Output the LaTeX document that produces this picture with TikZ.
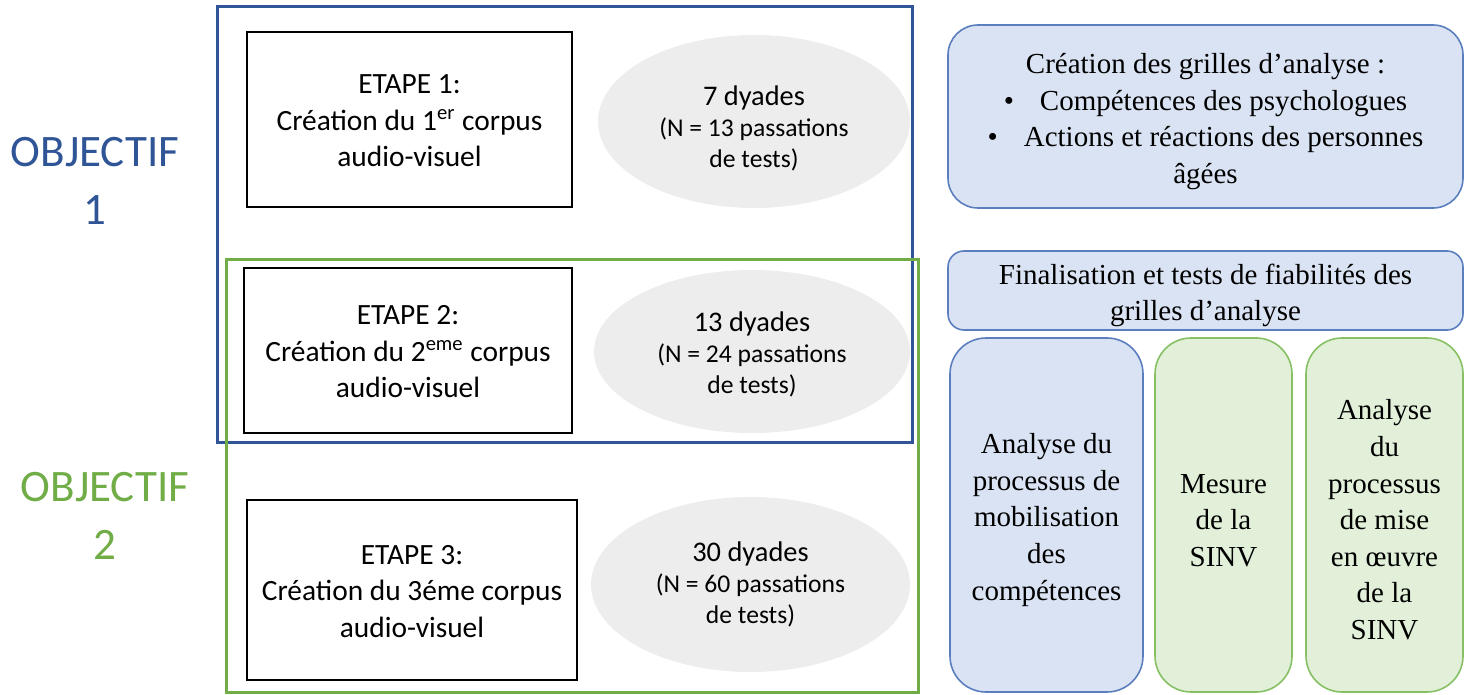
\documentclass[tikz,border=0pt]{standalone}
\usepackage{fontspec}
\setmainfont{Liberation Serif}
\newfontfamily\calibri{Carlito}
\usetikzlibrary{shapes.geometric}

\definecolor{objblue}{HTML}{2F5597}
\definecolor{objgreen}{HTML}{70AD47}
\definecolor{dyadegray}{HTML}{EDEDED}
\definecolor{grilleblue}{HTML}{DAE3F3}
\definecolor{grilleblueline}{HTML}{5B7EBE}
\definecolor{grillegreen}{HTML}{E2F0D9}
\definecolor{grillegreenline}{HTML}{86C062}

% extra height on a first line, pushes the text block down
\newcommand{\hausse}[1]{\rule{0pt}{#1}}

\begin{document}
\begin{tikzpicture}[x=0.5pt, y=-0.5pt,
		etape/.style={draw=black, line width=1pt, align=center, inner sep=0pt,
			font=\calibri\fontsize{14.7}{18.2}\selectfont},
		dyade/.style={ellipse, fill=dyadegray, align=center, inner sep=0pt,
			font=\calibri\fontsize{12.8}{15.5}\selectfont},
		grille/.style={rounded corners=#1, line width=0.8pt, align=center, inner sep=0pt,
			font=\fontsize{14.5}{18.3}\selectfont},
		grille/.default=15pt]
		\useasboundingbox (0,0) rectangle (1472,695);
		
		% Objectif frames
		\draw[objblue, line width=1.5pt] (217,7) rectangle (912,442);
		\draw[objgreen, line width=1.5pt] (226,260) rectangle (918,692);
		\node[objblue, align=center, font=\calibri\fontsize{22.5}{29}\selectfont] (obj1) at (95,181) {OBJECTIF\\1};
		\node[objgreen, align=center, font=\calibri\fontsize{22.5}{29}\selectfont] (obj2) at (105,516) {OBJECTIF\\2};
		
		% Etapes
		\node[etape, minimum width=162.5pt, minimum height=87.5pt] (etape1) at (409.5,119.5)
			{\hausse{11pt}ETAPE 1:\\Création du 1\textsuperscript{er} corpus\\audio-visuel};
		\node[etape, minimum width=164pt, minimum height=82.5pt] (etape2) at (408,350.5)
			{\hausse{11pt}ETAPE 2:\\Création du 2\textsuperscript{eme} corpus\\audio-visuel};
		\node[etape, minimum width=165pt, minimum height=90pt] (etape3) at (412,590)
			{\hausse{11pt}ETAPE 3:\\Création du 3éme corpus\\audio-visuel};
		
		% Dyades
		\node[dyade, minimum width=156pt, minimum height=86.5pt] (dyade1) at (754,121.5)
			{\hausse{17pt}{\fontsize{14.2}{16}\selectfont 7 dyades}\\(N = 13 passations\\de tests)};
		\node[dyade, minimum width=158pt, minimum height=81.5pt] (dyade2) at (752,351.5)
			{\hausse{13pt}{\fontsize{14.2}{16}\selectfont 13 dyades}\\(N = 24 passations\\de tests)};
		\node[dyade, minimum width=159.5pt, minimum height=87.5pt] (dyade3) at (750.5,584.5)
			{\hausse{10pt}{\fontsize{14.2}{16}\selectfont 30 dyades}\\(N = 60 passations\\de tests)};
		
		% Grilles d'analyse
		\node[grille, draw=grilleblueline, fill=grilleblue, minimum width=257.5pt, minimum height=91.5pt] (creation) at (1205.5,116.5)
			{\hausse{15pt}Création des grilles d’analyse :\\
			\textbullet\hspace{13pt}Compétences des psychologues\\
			\textbullet\hspace{13pt}Actions et réactions des personnes\\
			âgées};
		\node[grille=8pt, draw=grilleblueline, fill=grilleblue, minimum width=257.5pt, minimum height=39.5pt] (finalisation) at (1205.5,290.5)
			{\hausse{15pt}Finalisation et tests de fiabilités des\\grilles d’analyse};
		\node[grille=18pt, draw=grilleblueline, fill=grilleblue, minimum width=96.5pt, minimum height=177pt] (mobilisation) at (1046.5,515)
			{\hausse{15pt}Analyse du\\processus de\\mobilisation\\des\\compétences};
		\node[grille=18pt, draw=grillegreenline, fill=grillegreen, minimum width=68.5pt, minimum height=177pt] (mesure) at (1223.5,515)
			{\hausse{15pt}Mesure\\de la\\SINV};
		\node[grille=18pt, draw=grillegreenline, fill=grillegreen, minimum width=78.5pt, minimum height=177pt] (miseoeuvre) at (1384.5,515)
			{\hausse{15pt}Analyse\\du\\processus\\de mise\\en œuvre\\de la\\SINV};
		
	\end{tikzpicture}
\end{document}
